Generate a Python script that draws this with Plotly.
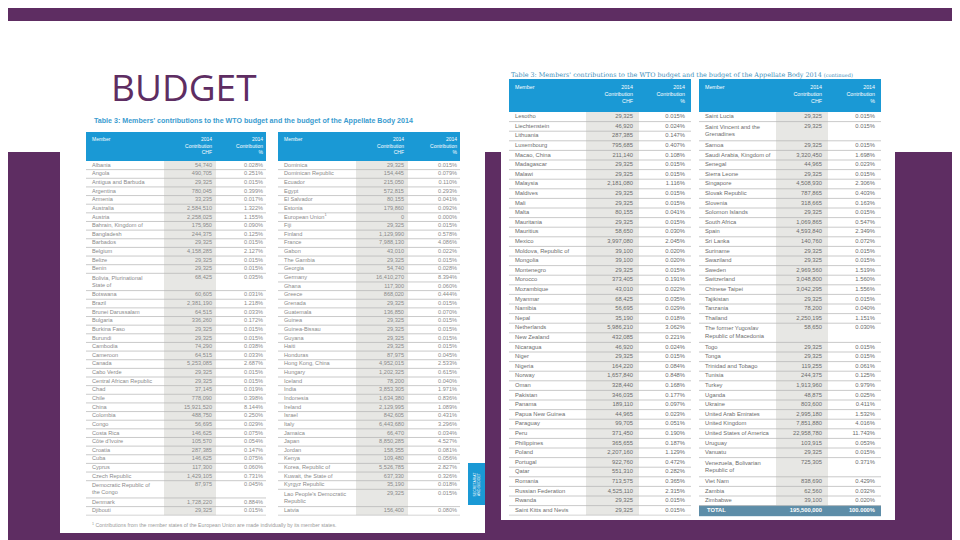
import plotly.graph_objects as go

# ---------------- data ----------------
header_member = "Member"
header_chf = "2014<br>Contribution<br>CHF"
header_pct = "2014<br>Contribution<br>%"

members_a = ["Albania", "Angola", "Antigua and Barbuda", "Argentina", "Armenia", "Australia", "Austria",
             "Bahrain, Kingdom of", "Bangladesh", "Barbados", "Belgium", "Belize", "Benin",
             "Bolivia, Plurinational<br>State of", "Botswana", "Brazil", "Brunei Darussalam", "Bulgaria",
             "Burkina Faso", "Burundi", "Cambodia", "Cameroon", "Canada", "Cabo Verde",
             "Central African Republic", "Chad", "Chile", "China", "Colombia", "Congo", "Costa Rica",
             "Côte d'Ivoire", "Croatia", "Cuba", "Cyprus", "Czech Republic",
             "Democratic Republic of<br>the Congo", "Denmark", "Djibouti"]
chf_a = [54740, 490705, 29325, 780045, 33235, 2584510, 2258025, 175950, 244375, 29325, 4158285, 29325,
         29325, 68425, 60605, 2381190, 64515, 336260, 29325, 29325, 74290, 64515, 5253085, 29325, 29325,
         37145, 778090, 15921520, 488750, 56695, 146625, 105570, 287385, 146625, 117300, 1429105, 87975,
         1728220, 29325]
pct_a = [0.028, 0.251, 0.015, 0.399, 0.017, 1.322, 1.155, 0.090, 0.125, 0.015, 2.127, 0.015, 0.015,
         0.035, 0.031, 1.218, 0.033, 0.172, 0.015, 0.015, 0.038, 0.033, 2.687, 0.015, 0.015, 0.019,
         0.398, 8.144, 0.250, 0.029, 0.075, 0.054, 0.147, 0.075, 0.060, 0.731, 0.045, 0.884, 0.015]

members_b = ["Dominica", "Dominican Republic", "Ecuador", "Egypt", "El Salvador", "Estonia",
             "European Union<sup>1</sup>", "Fiji", "Finland", "France", "Gabon", "The Gambia", "Georgia",
             "Germany", "Ghana", "Greece", "Grenada", "Guatemala", "Guinea", "Guinea-Bissau", "Guyana",
             "Haiti", "Honduras", "Hong Kong, China", "Hungary", "Iceland", "India", "Indonesia", "Ireland",
             "Israel", "Italy", "Jamaica", "Japan", "Jordan", "Kenya", "Korea, Republic of",
             "Kuwait, the State of", "Kyrgyz Republic", "Lao People's Democratic<br>Republic", "Latvia"]
chf_b = [29325, 154445, 215050, 572815, 80155, 179860, 0, 29325, 1129990, 7988130, 43010, 29325, 54740,
         16410270, 117300, 868020, 29325, 136850, 29325, 29325, 29325, 29325, 87975, 4952015, 1202325,
         78200, 3853305, 1634380, 2129995, 842605, 6443680, 66470, 8850285, 158355, 109480, 5526785,
         637330, 35190, 29325, 156400]
pct_b = [0.015, 0.079, 0.110, 0.293, 0.041, 0.092, 0.000, 0.015, 0.578, 4.086, 0.022, 0.015, 0.028,
         8.394, 0.060, 0.444, 0.015, 0.070, 0.015, 0.015, 0.015, 0.015, 0.045, 2.533, 0.615, 0.040,
         1.971, 0.836, 1.089, 0.431, 3.296, 0.034, 4.527, 0.081, 0.056, 2.827, 0.326, 0.018, 0.015, 0.080]

members_c = ["Lesotho", "Liechtenstein", "Lithuania", "Luxembourg", "Macao, China", "Madagascar", "Malawi",
             "Malaysia", "Maldives", "Mali", "Malta", "Mauritania", "Mauritius", "Mexico",
             "Moldova, Republic of", "Mongolia", "Montenegro", "Morocco", "Mozambique", "Myanmar", "Namibia",
             "Nepal", "Netherlands", "New Zealand", "Nicaragua", "Niger", "Nigeria", "Norway", "Oman",
             "Pakistan", "Panama", "Papua New Guinea", "Paraguay", "Peru", "Philippines", "Poland",
             "Portugal", "Qatar", "Romania", "Russian Federation", "Rwanda", "Saint Kitts and Nevis"]
chf_c = [29325, 46920, 287385, 795685, 211140, 29325, 29325, 2181080, 29325, 29325, 80155, 29325, 58650,
         3997080, 39100, 39100, 29325, 373405, 43010, 68425, 56695, 35190, 5986210, 432085, 46920, 29325,
         164220, 1657840, 328440, 346035, 189110, 44965, 99705, 371450, 365655, 2207160, 922760, 551310,
         713575, 4525110, 29325, 29325]
pct_c = [0.015, 0.024, 0.147, 0.407, 0.108, 0.015, 0.015, 1.116, 0.015, 0.015, 0.041, 0.015, 0.030,
         2.045, 0.020, 0.020, 0.015, 0.191, 0.022, 0.035, 0.029, 0.018, 3.062, 0.221, 0.024, 0.015,
         0.084, 0.848, 0.168, 0.177, 0.097, 0.023, 0.051, 0.190, 0.187, 1.129, 0.472, 0.282, 0.365,
         2.315, 0.015, 0.015]

members_d = ["Saint Lucia", "Saint Vincent and the<br>Grenadines", "Samoa", "Saudi Arabia, Kingdom of",
             "Senegal", "Sierra Leone", "Singapore", "Slovak Republic", "Slovenia", "Solomon Islands",
             "South Africa", "Spain", "Sri Lanka", "Suriname", "Swaziland", "Sweden", "Switzerland",
             "Chinese Taipei", "Tajikistan", "Tanzania", "Thailand",
             "The former Yugoslav<br>Republic of Macedonia", "Togo", "Tonga", "Trinidad and Tobago",
             "Tunisia", "Turkey", "Uganda", "Ukraine", "United Arab Emirates", "United Kingdom",
             "United States of America", "Uruguay", "Vanuatu", "Venezuela, Bolivarian<br>Republic of",
             "Viet Nam", "Zambia", "Zimbabwe"]
chf_d = [29325, 29325, 29325, 3320450, 44965, 29325, 4508930, 787865, 318665, 29325, 1069865, 4593840,
         140760, 29325, 29325, 2969560, 3048800, 3042295, 29325, 78200, 2250195, 58650, 29325, 29325,
         119255, 244375, 1913960, 48875, 803600, 2995180, 7851880, 22958780, 103915, 29325, 725305,
         838690, 62560, 39100]
pct_d = [0.015, 0.015, 0.015, 1.698, 0.023, 0.015, 2.306, 0.403, 0.163, 0.015, 0.547, 2.349, 0.072,
         0.015, 0.015, 1.519, 1.560, 1.556, 0.015, 0.040, 1.151, 0.030, 0.015, 0.015, 0.061, 0.125,
         0.979, 0.025, 0.411, 1.532, 4.016, 11.743, 0.053, 0.015, 0.371, 0.429, 0.032, 0.020]

total_label = "TOTAL"
total_chf = 195500000
total_pct = 100.000

slide_title = "BUDGET"
table_title = "Table 3: Members' contributions to the WTO budget and the budget of the Appellate Body 2014"
continued = "(continued)"
footnote = "<sup>1</sup> Contributions from the member states of the European Union are made individually by its member states."
tab_text = "SECRETARIAT<br>AND BUDGET"

# ---------------- style ----------------
W, H = 960, 540
PURPLE = "#5e2d62"
BLUE = "#1a99d5"
GRAYCOL = "#e7e7e4"
GRID = "#b3b3b3"
TOTALFILL = "#5d8da8"
FONT = "Liberation Sans"

def fy(px):
    return 1 - px / H

fig = go.Figure()
shapes = []
annotations = []
layout_axes = {}

# background panels
shapes.append(dict(type="rect", xref="paper", yref="paper", x0=0, x1=1, y0=fy(144), y1=fy(13),
                   fillcolor="white", line_width=0, layer="below"))
shapes.append(dict(type="rect", xref="paper", yref="paper", x0=52 / W, x1=477 / W, y0=fy(525), y1=fy(95),
                   fillcolor="white", line_width=0, layer="below"))
shapes.append(dict(type="rect", xref="paper", yref="paper", x0=493 / W, x1=887 / W, y0=fy(512), y1=fy(50),
                   fillcolor="white", line_width=0, layer="below"))
shapes.append(dict(type="rect", xref="paper", yref="paper", x0=460 / W, x1=477 / W, y0=fy(497), y1=fy(455),
                   fillcolor=BLUE, line_width=0, layer="below"))

left_geo = dict(ytop=124, yhb=153, row=8.64, font=5.6, color="#8a8a8a", hfont=5.0, pad=5.5,
                npad=6, cpad=4, ppad=3)
right_geo = dict(ytop=71, yhb=104, row=9.6, font=5.8, color="#6c6c6c", hfont=5.3, pad=6,
                 npad=6, cpad=6, ppad=6)

specs = [
    (members_a, chf_a, pct_a, dict(left_geo, x0=78, c1=156, c2=208, x1=258)),
    (members_b, chf_b, pct_b, dict(left_geo, x0=270, c1=348, c2=400, x1=452)),
    (members_c, chf_c, pct_c, dict(right_geo, x0=501, c1=578, c2=631, x1=683)),
    (members_d, chf_d, pct_d, dict(right_geo, x0=691, c1=768, c2=820, x1=873, total=1.12)),
]

for i, (names, chf, pct, g) in enumerate(specs, start=1):
    sfx = "" if i == 1 else str(i)
    xa, ya = "x" + sfx, "y" + sfx
    lines = [n.count("<br>") + 1 for n in names]
    tops = [0]
    for l in lines:
        tops.append(tops[-1] + l)
    units = tops[-1]
    extra = g.get("total", 0)
    hdr = (g["yhb"] - g["ytop"]) / g["row"]
    yend = g["yhb"] + (units + extra) * g["row"] + 0.5
    layout_axes["xaxis" + sfx] = dict(domain=[g["x0"] / W, g["x1"] / W], range=[g["x0"], g["x1"]],
                                      visible=False, anchor=ya, fixedrange=True)
    layout_axes["yaxis" + sfx] = dict(domain=[fy(yend), fy(g["ytop"])],
                                      range=[units + extra + 0.5 / g["row"], -hdr], anchor=xa,
                                      visible=False, fixedrange=True)
    # header + gray column
    shapes.append(dict(type="rect", xref=xa, yref=ya, x0=g["x0"], x1=g["x1"], y0=-hdr, y1=0,
                       fillcolor=BLUE, line_width=0, layer="below"))
    shapes.append(dict(type="rect", xref=xa, yref=ya, x0=g["c1"], x1=g["c2"], y0=0, y1=units,
                       fillcolor=GRAYCOL, line_width=0, layer="below"))
    # row separators (one line under each row)
    sx, sy = [], []
    for b in tops[1:]:
        sx += [g["x0"], g["x1"], None]
        sy += [b, b, None]
    fig.add_trace(go.Scatter(x=sx, y=sy, mode="lines", line=dict(color=GRID, width=0.7),
                             xaxis=xa, yaxis=ya, cliponaxis=False, hoverinfo="skip"))
    tf = dict(family=FONT, size=g["font"], color=g["color"])
    fig.add_trace(go.Scatter(x=[g["x0"] + g["npad"]] * len(names),
                             y=[t + l / 2 for t, l in zip(tops[:-1], lines)],
                             text=names, mode="text", textposition="middle right", textfont=tf,
                             xaxis=xa, yaxis=ya, cliponaxis=False, hoverinfo="skip"))
    fig.add_trace(go.Scatter(x=[g["c2"] - g["cpad"]] * len(chf), y=[t + 0.5 for t in tops[:-1]],
                             text=[f"{v:,}" for v in chf], mode="text", textposition="middle left",
                             textfont=tf, xaxis=xa, yaxis=ya, cliponaxis=False, hoverinfo="skip"))
    fig.add_trace(go.Scatter(x=[g["x1"] - g["ppad"]] * len(pct), y=[t + 0.5 for t in tops[:-1]],
                             text=[f"{v:.3f}%" for v in pct], mode="text", textposition="middle left",
                             textfont=tf, xaxis=xa, yaxis=ya, cliponaxis=False, hoverinfo="skip"))
    hy = -hdr + g["pad"] / g["row"]
    fig.add_trace(go.Scatter(x=[g["x0"] + g["npad"], g["c2"] - g["cpad"], g["x1"] - g["ppad"]],
                             y=[hy, hy, hy], text=[header_member, header_chf, header_pct], mode="text",
                             textposition=["bottom right", "bottom left", "bottom left"],
                             textfont=dict(family=FONT, size=g["hfont"], color="white"),
                             xaxis=xa, yaxis=ya, cliponaxis=False, hoverinfo="skip"))
    if extra:
        shapes.append(dict(type="rect", xref=xa, yref=ya, x0=g["x0"], x1=g["x1"], y0=units,
                           y1=units + extra, fillcolor=TOTALFILL, line_width=0, layer="below"))
        ty = units + extra / 2
        fig.add_trace(go.Scatter(x=[g["x0"] + 8, g["c2"] - g["cpad"], g["x1"] - g["ppad"]],
                                 y=[ty, ty, ty],
                                 text=[f"<b>{total_label}</b>", f"<b>{total_chf:,}</b>",
                                       f"<b>{total_pct:.3f}%</b>"],
                                 mode="text", textposition=["middle right", "middle left", "middle left"],
                                 textfont=dict(family=FONT, size=g["font"], color="white"),
                                 xaxis=xa, yaxis=ya, cliponaxis=False, hoverinfo="skip"))

# texts
annotations.append(dict(text=slide_title, xref="paper", yref="paper", x=101 / W, y=fy(79),
                        xanchor="left", yanchor="middle", showarrow=False,
                        font=dict(family="Open Sans", size=37, color=PURPLE)))
annotations.append(dict(text=f"<b>{table_title}</b>", xref="paper", yref="paper", x=84 / W, y=fy(113),
                        xanchor="left", yanchor="middle", showarrow=False,
                        font=dict(family=FONT, size=7.1, color="#3a9ccf")))
annotations.append(dict(text=f"{table_title} <span style='font-size:5px'>{continued}</span>",
                        xref="paper", yref="paper", x=501 / W, y=fy(67), xanchor="left", yanchor="middle",
                        showarrow=False, font=dict(family="DejaVu Serif", size=6.4, color="#3f8fbb")))
annotations.append(dict(text=footnote, xref="paper", yref="paper", x=82 / W, y=fy(517), xanchor="left",
                        yanchor="middle", showarrow=False, font=dict(family=FONT, size=5.2, color="#9a9a9a")))
annotations.append(dict(text=tab_text, xref="paper", yref="paper", x=468.5 / W,
                        y=fy(476), xanchor="center", yanchor="middle", showarrow=False, textangle=-90,
                        font=dict(family=FONT, size=3.5, color="white")))

fig.update_layout(
    width=W, height=H, margin=dict(l=0, r=0, t=0, b=0),
    paper_bgcolor=PURPLE, plot_bgcolor="rgba(0,0,0,0)",
    showlegend=False, hovermode=False,
    shapes=shapes, annotations=annotations,
    **layout_axes,
)
fig.write_html("out.html")
